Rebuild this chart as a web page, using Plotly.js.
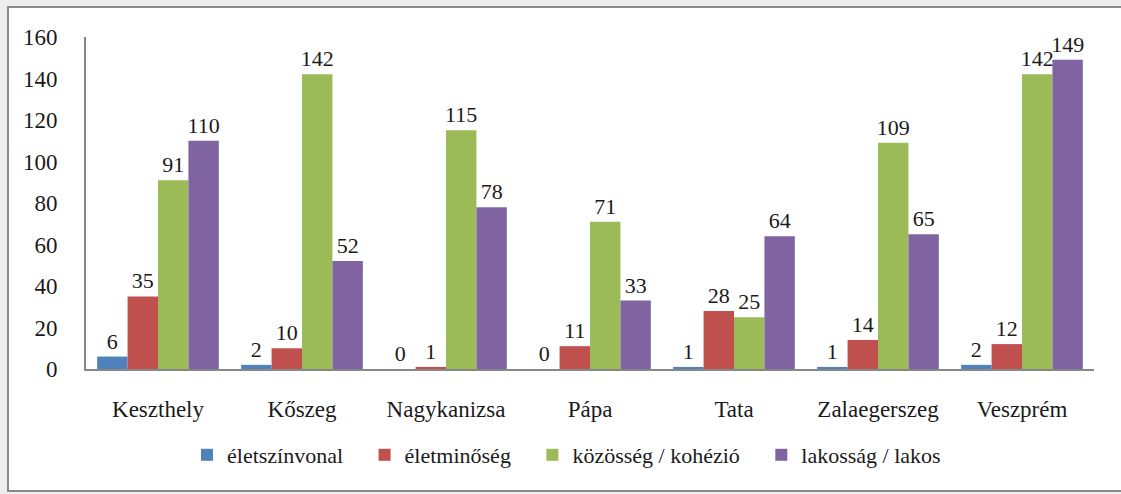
<!DOCTYPE html>
<html>
<head>
<meta charset="utf-8">
<script src="https://cdn.plot.ly/plotly-3.0.1.min.js"></script>
<style>html,body{margin:0;padding:0;background:#eeeeee;}#chart{width:1121px;height:494px;}</style>
</head>
<body>
<div id="chart"></div>
<script>
const categories = ["Keszthely", "Kőszeg", "Nagykanizsa", "Pápa", "Tata", "Zalaegerszeg", "Veszprém"];
const seriesNames = ["életszínvonal", "életminőség", "közösség / kohézió", "lakosság / lakos"];
const eletszinvonal = [6, 2, 0, 0, 1, 1, 2];
const eletminoseg = [35, 10, 1, 11, 28, 14, 12];
const kozosseg = [91, 142, 115, 71, 25, 109, 142];
const lakossag = [110, 52, 78, 33, 64, 65, 149];
const yTicks = [0, 20, 40, 60, 80, 100, 120, 140, 160];

const colors = ["#4F81BD", "#C0504D", "#9BBB59", "#8064A2"];
const allValues = [eletszinvonal, eletminoseg, kozosseg, lakossag];
const fontFam = "Liberation Serif, Times New Roman, serif";
const pad = "\u00a0\u00a0\u00a0";

const traces = allValues.map((vals, i) => ({
  type: "bar",
  name: seriesNames[i] + pad,
  x: categories,
  y: vals,
  text: vals.map(String),
  textposition: "outside",
  textangle: 0,
  constraintext: "none",
  cliponaxis: false,
  textfont: {family: fontFam, size: 22, color: "#1a1a1a"},
  marker: {color: colors[i]},
  hoverinfo: "x+y+name"
}));

const L = 86, R = 27, T = 37, B = 125, W = 1121, H = 494;
const pw = W - L - R, ph = H - T - B;
const px = v => (v - L) / pw;
const py = v => (H - B - v) / ph;

const layout = {
  width: W, height: H,
  margin: {l: L, r: R, t: T, b: B, pad: 0},
  paper_bgcolor: "#eeeeee",
  plot_bgcolor: "rgba(0,0,0,0)",
  font: {family: fontFam, size: 22, color: "#1a1a1a"},
  barmode: "group",
  bargap: 0.155,
  bargroupgap: 0,
  showlegend: true,
  legend: {
    orientation: "h",
    x: px(575), xanchor: "center",
    y: py(455), yanchor: "middle",
    font: {family: fontFam, size: 22, color: "#1a1a1a"},
    bgcolor: "rgba(0,0,0,0)",
    itemwidth: 30,
    traceorder: "normal"
  },
  xaxis: {
    type: "category",
    showgrid: false,
    showline: true,
    linecolor: "#878787",
    linewidth: 2,
    ticks: "",
    ticklabelstandoff: 18,
    tickfont: {family: fontFam, size: 23, color: "#1a1a1a"},
    zeroline: false,
    fixedrange: true
  },
  yaxis: {
    range: [0, 160],
    tickvals: yTicks,
    ticktext: yTicks.map(String),
    showgrid: false,
    showline: true,
    linecolor: "#878787",
    linewidth: 2,
    ticks: "",
    ticklabelstandoff: 22,
    tickfont: {family: fontFam, size: 23, color: "#1a1a1a"},
    zeroline: false,
    fixedrange: true
  },
  shapes: [{
    type: "rect", xref: "paper", yref: "paper", layer: "below",
    x0: px(8), x1: px(1130), y0: py(491), y1: py(7),
    fillcolor: "#ffffff",
    line: {color: "#8a8a8a", width: 2}
  }]
};

Plotly.newPlot("chart", traces, layout, {displayModeBar: false, staticPlot: true});
</script>
</body>
</html>
